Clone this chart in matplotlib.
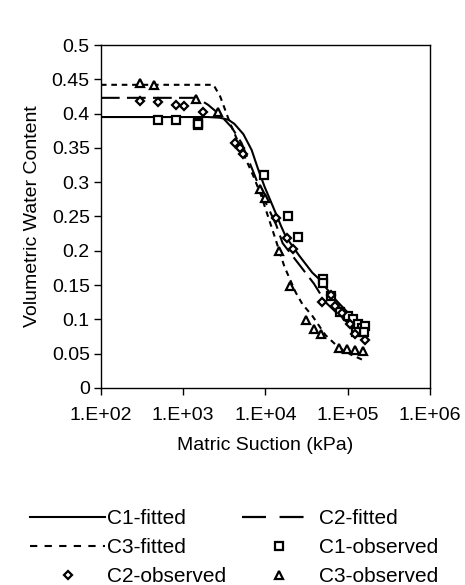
import numpy as np
import matplotlib
matplotlib.use("Agg")
import matplotlib.pyplot as plt
from matplotlib.lines import Line2D
from matplotlib.ticker import FixedLocator, FuncFormatter, NullLocator

plt.rcParams["font.family"] = ["Liberation Sans", "DejaVu Sans"]

# fitted curves (suction in kPa, volumetric water content)
c1_fit_x = [100, 2000, 2800, 3550, 4200, 5400, 6800, 8100, 9800, 12300, 15500, 17800,
            25700, 37200, 44700, 70800, 100000, 162000]
c1_fit_y = [0.395, 0.395, 0.394, 0.391, 0.385, 0.370, 0.347, 0.320, 0.293, 0.265, 0.236, 0.220,
            0.193, 0.168, 0.159, 0.129, 0.110, 0.085]

c2_fit_x = [100, 1400, 1660, 2000, 2820, 3890, 5130, 7080, 9330, 13500, 16200, 25700,
            38900, 53700, 89100, 162000]
c2_fit_y = [0.423, 0.423, 0.419, 0.413, 0.398, 0.380, 0.357, 0.316, 0.279, 0.238, 0.211, 0.180,
            0.152, 0.125, 0.100, 0.075]

c3_fit_x = [100, 2340, 2820, 3720, 5010, 7080, 8910, 12300, 17000, 23400, 28200, 37200,
            53700, 77600, 112000, 158000]
c3_fit_y = [0.442, 0.442, 0.425, 0.386, 0.350, 0.310, 0.280, 0.229, 0.177, 0.139, 0.122, 0.105,
            0.077, 0.059, 0.048, 0.040]

# observed points
c1_obs_x = [500, 820, 1500, 1500, 1500, 9700, 18700, 24600, 50000, 50000, 62000, 81000,
            102000, 115000, 134000, 150000, 162000, 160000, 125000]
c1_obs_y = [0.391, 0.391, 0.386, 0.383, 0.385, 0.310, 0.250, 0.220, 0.159, 0.153, 0.134, 0.111,
            0.105, 0.100, 0.093, 0.088, 0.090, 0.081, 0.082]

c2_obs_x = [302, 500, 825, 1025, 1725, 4300, 4900, 5400, 13500, 18500, 21500, 49000,
            62000, 71000, 85000, 107000, 123000, 162000]
c2_obs_y = [0.418, 0.4165, 0.413, 0.411, 0.402, 0.357, 0.350, 0.341, 0.248, 0.218, 0.202, 0.125,
            0.136, 0.120, 0.109, 0.093, 0.079, 0.070]

c3_obs_x = [302, 437, 1435, 2690, 8600, 10000, 14800, 19900, 31500, 39000, 47000, 78000,
            98000, 123000, 155000]
c3_obs_y = [0.444, 0.441, 0.421, 0.403, 0.290, 0.277, 0.200, 0.148, 0.0996, 0.086, 0.078, 0.0586,
            0.057, 0.0555, 0.054]

x_ticks = [1e2, 1e3, 1e4, 1e5, 1e6]
y_ticks = [0, 0.05, 0.1, 0.15, 0.2, 0.25, 0.3, 0.35, 0.4, 0.45, 0.5]
y_tick_labels = ["0", "0.05", "0.1", "0.15", "0.2", "0.25", "0.3", "0.35", "0.4", "0.45", "0.5"]

fs = 14
fs_leg = 15

fig = plt.figure(figsize=(4.65, 5.85), dpi=100)
ax = fig.add_axes([0.217, 0.337, 0.7075, 0.586])

dash_c2 = (0, (9, 3.5))
dot_c3 = (0, (2.7, 2.3))
ax.plot(c1_fit_x, c1_fit_y, color="black", lw=1.5, ls="-")
ax.plot(c2_fit_x, c2_fit_y, color="black", lw=1.5, ls=dash_c2)
ax.plot(c3_fit_x, c3_fit_y, color="black", lw=1.5, ls=dot_c3)

mk = dict(ls="none", mfc="white", mec="black", mew=1.6)
ax.plot(c1_obs_x, c1_obs_y, marker="s", ms=5.5, **mk)
ax.plot(c2_obs_x, c2_obs_y, marker="D", ms=4.2, **mk)
ax.plot(c3_obs_x, c3_obs_y, marker="^", ms=5.5, **mk)

ax.set_xscale("log")
ax.set_xlim(1e2, 1e6)
ax.set_ylim(0, 0.5)
ax.xaxis.set_major_locator(FixedLocator(x_ticks))
ax.xaxis.set_minor_locator(NullLocator())
ax.xaxis.set_major_formatter(FuncFormatter(lambda v, p: "1.E+%02d" % int(round(np.log10(v)))))
ax.set_yticks(y_ticks)
ax.set_yticklabels(y_tick_labels)
ax.tick_params(direction="out", length=5, width=1, labelsize=fs, color="black")
ax.tick_params(axis="x", pad=9)
ax.tick_params(axis="y", pad=3)
for s in ax.spines.values():
    s.set_linewidth(1)
    s.set_color("black")

ax.set_xlabel("Matric Suction (kPa)", fontsize=fs, labelpad=9)
ax.set_ylabel("Volumetric Water Content", fontsize=fs, labelpad=8)

# legend: row-major reading order, matplotlib fills columns first
# (legend swatches use a coarser dash pattern, like the original)
h_c1f = Line2D([], [], color="black", lw=1.5, ls="-")
h_c2f = Line2D([], [], color="black", lw=1.6, ls=(0, (10.8, 6.1)))
h_c3f = Line2D([], [], color="black", lw=1.5, ls=(0, (3.5, 3.5)))
h_c1o = Line2D([], [], marker="s", ms=5.5, **mk)
h_c2o = Line2D([], [], marker="D", ms=4.2, **mk)
h_c3o = Line2D([], [], marker="^", ms=5.5, **mk)
handles = [h_c1f, h_c3f, h_c2o, h_c2f, h_c1o, h_c3o]
labels = ["C1-fitted", "C3-fitted", "C2-observed", "C2-fitted", "C1-observed", "C3-observed"]
fig.legend(handles, labels, ncol=2, loc="upper left", bbox_to_anchor=(30 / 465, 1 - 509 / 585),
           frameon=False, fontsize=fs_leg, handlelength=3.6, handletextpad=0.1,
           columnspacing=0.75, labelspacing=0.48, borderaxespad=0, borderpad=0)

fig.savefig("out.png", dpi=100)
